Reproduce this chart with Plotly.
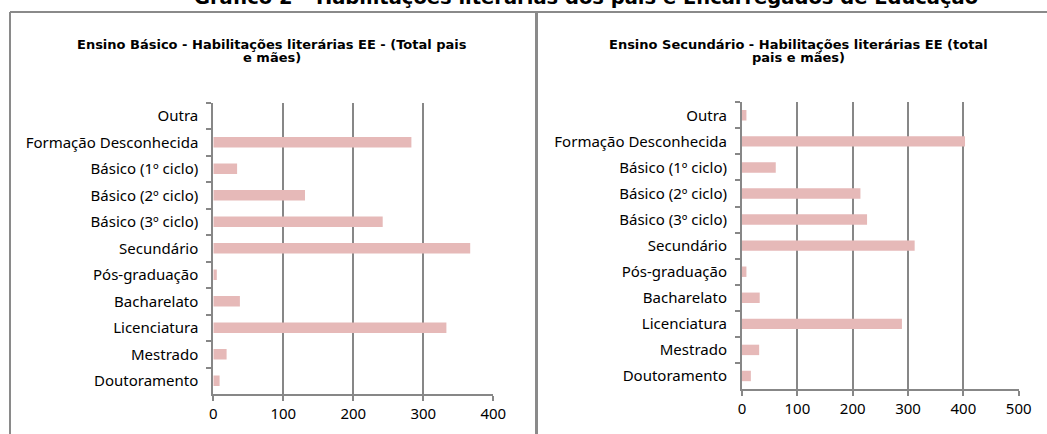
import plotly.graph_objects as go

W, H = 1047, 434

# Categories, top to bottom
categorias = [
    "Outra",
    "Formação Desconhecida",
    "Básico (1º ciclo)",
    "Básico (2º ciclo)",
    "Básico (3º ciclo)",
    "Secundário",
    "Pós-graduação",
    "Bacharelato",
    "Licenciatura",
    "Mestrado",
    "Doutoramento",
]

# Totals of fathers and mothers per qualification
ensino_basico = [0, 283, 34, 131, 242, 367, 5, 38, 333, 19, 9]
ensino_secundario = [8, 403, 61, 214, 226, 312, 8, 32, 289, 31, 16]

x_ticks_basico = [0, 100, 200, 300, 400]
x_ticks_secundario = [0, 100, 200, 300, 400, 500]

titulo = "Gráfico 2 – Habilitações literárias dos pais e Encarregados de Educação"
titulo_basico = ["Ensino Básico - Habilitações literárias EE - (Total pais", "e mães)"]
titulo_secundario = ["Ensino Secundário - Habilitações literárias EE (total", "pais e mães)"]

BAR = "#E6B9B8"
GRID = "#878787"
FONT = "Noto Sans"
TITLE_FONT = "DejaVu Sans"


def px_x(p):
    return p / W


def px_y(p):
    return 1 - p / H


fig = go.Figure()

fig.add_trace(go.Bar(
    x=ensino_basico, y=categorias, orientation="h",
    marker=dict(color=BAR, line=dict(width=0)), width=0.4,
    xaxis="x", yaxis="y", showlegend=False,
))
fig.add_trace(go.Bar(
    x=ensino_secundario, y=categorias, orientation="h",
    marker=dict(color=BAR, line=dict(width=0)), width=0.4,
    xaxis="x2", yaxis="y2", showlegend=False,
))

xaxis_common = dict(
    showgrid=True, gridcolor=GRID, gridwidth=1.5,
    showline=True, linecolor=GRID, linewidth=2,
    ticks="outside", ticklen=5, tickcolor=GRID, tickwidth=1.5,
    tickfont=dict(family=FONT, size=15, color="#000"),
    zeroline=False, automargin=False,
)
yaxis_common = dict(
    type="category", categoryorder="array", categoryarray=categorias,
    range=[10.5, -0.5],
    showgrid=False, showline=True, linecolor=GRID, linewidth=2,
    ticks="outside", ticklen=5, tickcolor=GRID, tickwidth=1.5,
    tickson="boundaries", ticklabelstandoff=10,
    tickfont=dict(family=FONT, size=15, color="#000"),
    automargin=False,
)

fig.update_layout(
    width=W, height=H,
    margin=dict(l=0, r=0, t=0, b=0),
    paper_bgcolor="white", plot_bgcolor="white",
    xaxis=dict(domain=[px_x(213.3), px_x(493.3)], range=[0, 400],
               tickvals=x_ticks_basico, anchor="y", **xaxis_common),
    yaxis=dict(domain=[px_y(394), px_y(102.5)], anchor="x", **yaxis_common),
    xaxis2=dict(domain=[px_x(742), px_x(1018.7)], range=[0, 500],
                tickvals=x_ticks_secundario, anchor="y2", **xaxis_common),
    yaxis2=dict(domain=[px_y(389), px_y(102.3)], anchor="x2", **yaxis_common),
)

# Panel frames
frame = dict(type="line", xref="paper", yref="paper", line=dict(color="#8a8a8a", width=2))
fig.add_shape(x0=px_x(10), x1=1, y0=px_y(12), y1=px_y(12), **frame)
fig.add_shape(x0=px_x(10), x1=px_x(10), y0=px_y(12), y1=0, **frame)
fig.add_shape(type="line", xref="paper", yref="paper",
              x0=px_x(536.5), x1=px_x(536.5), y0=px_y(12), y1=0,
              line=dict(color="#8a8a8a", width=3))

# Main title (runs past the top edge of the page)
fig.add_annotation(text=f"<b>{titulo}</b>", xref="paper", yref="paper",
                   x=px_x(586), y=px_y(-2), xanchor="center", yanchor="middle",
                   showarrow=False, font=dict(family=TITLE_FONT, size=19.5, color="#000"))

# Panel titles, one annotation per line for tight line spacing
for linhas, cx in [(titulo_basico, 272), (titulo_secundario, 798)]:
    for i, linha in enumerate(linhas):
        fig.add_annotation(text=f"<b>{linha}</b>", xref="paper", yref="paper",
                           x=px_x(cx), y=px_y(44 + 13.5 * i), xanchor="center",
                           yanchor="middle", showarrow=False,
                           font=dict(family=TITLE_FONT, size=13, color="#000"))

fig.write_html("out.html")
